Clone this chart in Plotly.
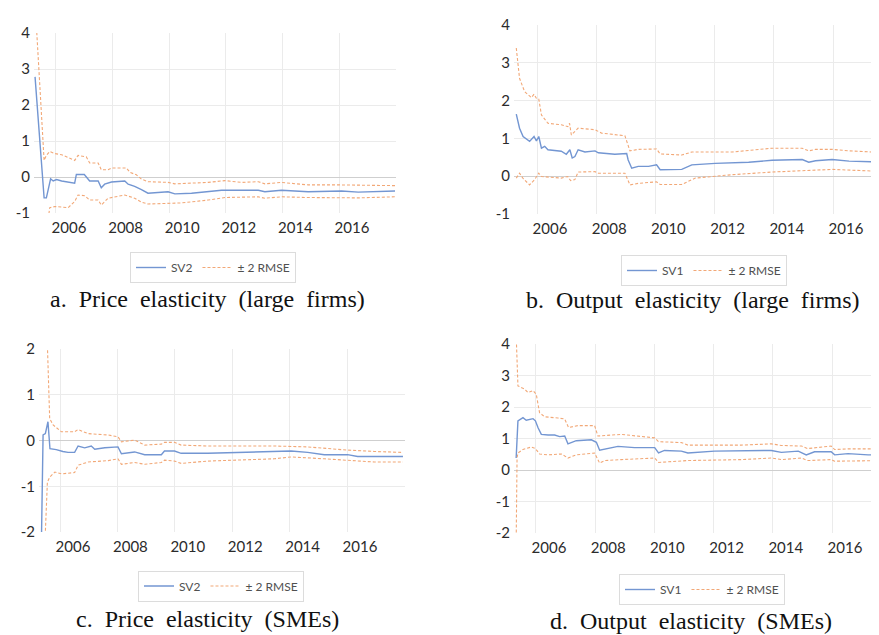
import plotly.graph_objects as go

# ---------------- data (decimal years) ----------------
# a. Price elasticity (large firms)
xa_sv = [2005.26, 2005.48, 2005.58, 2005.66, 2005.75, 2005.81, 2005.90, 2006.02, 2006.20, 2006.66,
         2006.72, 2007.00, 2007.19, 2007.31, 2007.49, 2007.60, 2007.72, 2007.96, 2008.43, 2008.55,
         2008.78, 2009.02, 2009.25, 2009.96, 2010.20, 2010.79, 2011.38, 2011.85, 2012.56, 2013.15,
         2013.38, 2013.97, 2014.91, 2015.50, 2016.09, 2016.68, 2017.27, 2017.98]
ya_sv = [2.78, 0.43, -0.58, -0.58, -0.21, -0.05, -0.11, -0.07, -0.11, -0.17,
         0.07, 0.07, -0.11, -0.11, -0.11, -0.30, -0.20, -0.14, -0.11, -0.20,
         -0.26, -0.35, -0.45, -0.41, -0.47, -0.45, -0.40, -0.37, -0.37, -0.37,
         -0.41, -0.37, -0.41, -0.41, -0.39, -0.42, -0.41, -0.39]
xa_up = [2005.30, 2005.58, 2005.66, 2005.78, 2005.96, 2006.20, 2006.66, 2006.78, 2007.07, 2007.19,
         2007.49, 2007.60, 2007.84, 2007.96, 2008.49, 2008.61, 2008.84, 2009.02, 2009.25, 2009.96,
         2010.20, 2011.38, 2011.97, 2012.56, 2013.15, 2013.38, 2013.97, 2014.91, 2016.09, 2017.27,
         2017.98]
ya_up = [4.3, 0.46, 0.60, 0.71, 0.65, 0.62, 0.46, 0.60, 0.56, 0.39,
         0.39, 0.20, 0.20, 0.25, 0.25, 0.13, 0.06, -0.06, -0.13, -0.15,
         -0.19, -0.15, -0.10, -0.15, -0.13, -0.19, -0.15, -0.22, -0.22, -0.24,
         -0.24]
xa_lo = [2005.70, 2005.78, 2005.96, 2006.43, 2006.66, 2006.78, 2007.02, 2007.19, 2007.49, 2007.60,
         2007.84, 2008.08, 2008.43, 2008.78, 2009.02, 2009.25, 2009.96, 2010.43, 2011.38, 2011.97,
         2013.15, 2013.38, 2013.97, 2014.91, 2016.68, 2017.98]
ya_lo = [-1.3, -0.85, -0.82, -0.85, -0.68, -0.50, -0.52, -0.64, -0.64, -0.78,
         -0.59, -0.55, -0.50, -0.59, -0.70, -0.75, -0.72, -0.72, -0.64, -0.57,
         -0.55, -0.59, -0.55, -0.57, -0.58, -0.55]

# b. Output elasticity (large firms)
xb_sv = [2005.30, 2005.41, 2005.53, 2005.75, 2005.90, 2005.98, 2006.06, 2006.15, 2006.26, 2006.37,
         2006.82, 2006.99, 2007.11, 2007.19, 2007.28, 2007.39, 2007.62, 2007.96, 2008.07, 2008.63,
         2009.03, 2009.08, 2009.20, 2009.42, 2009.77, 2010.04, 2010.16, 2010.89, 2011.23, 2012.02,
         2013.15, 2013.94, 2014.96, 2015.18, 2015.41, 2015.97, 2016.54, 2017.86]
yb_sv = [1.64, 1.27, 1.05, 0.92, 1.05, 0.93, 1.05, 0.74, 0.79, 0.70,
         0.66, 0.58, 0.70, 0.48, 0.52, 0.70, 0.64, 0.67, 0.62, 0.58,
         0.60, 0.43, 0.21, 0.26, 0.26, 0.30, 0.17, 0.18, 0.30, 0.34,
         0.37, 0.42, 0.44, 0.37, 0.41, 0.44, 0.40, 0.37]
xb_up = [2005.30, 2005.41, 2005.58, 2005.81, 2005.90, 2005.98, 2006.06, 2006.15, 2006.37, 2006.82,
         2007.04, 2007.10, 2007.16, 2007.39, 2007.96, 2008.18, 2008.97, 2009.14, 2009.42, 2010.04,
         2010.16, 2010.89, 2011.23, 2012.59, 2013.94, 2014.96, 2015.18, 2015.41, 2015.97, 2016.54,
         2017.86]
yb_up = [3.39, 2.59, 2.24, 2.08, 2.17, 2.06, 2.04, 1.62, 1.40, 1.36,
         1.31, 1.40, 1.09, 1.27, 1.23, 1.14, 1.07, 0.67, 0.71, 0.72,
         0.59, 0.56, 0.64, 0.64, 0.74, 0.74, 0.67, 0.71, 0.71, 0.67,
         0.62]
xb_lo = [2005.30, 2005.41, 2005.53, 2005.75, 2005.92, 2006.06, 2006.15, 2006.82, 2007.04, 2007.14,
         2007.28, 2007.39, 2007.96, 2008.07, 2008.97, 2009.14, 2009.42, 2010.04, 2010.16, 2010.89,
         2011.35, 2012.59, 2013.94, 2014.96, 2015.97, 2017.86]
yb_lo = [-0.05, 0.08, -0.06, -0.23, -0.09, 0.08, -0.01, -0.05, -0.01, -0.12,
         -0.09, 0.11, 0.12, 0.08, 0.08, -0.23, -0.19, -0.15, -0.22, -0.22,
         -0.05, 0.04, 0.11, 0.14, 0.18, 0.12]

# c. Price elasticity (SMEs)
xc_sv = [2005.35, 2005.41, 2005.49, 2005.58, 2005.65, 2005.87, 2006.10, 2006.28, 2006.51, 2006.63,
         2006.86, 2007.09, 2007.21, 2007.56, 2008.02, 2008.14, 2008.60, 2008.95, 2009.53, 2009.64,
         2009.99, 2010.22, 2011.15, 2012.31, 2013.47, 2014.05, 2014.63, 2015.21, 2016.02, 2016.37,
         2017.95]
yc_sv = [-2.3, 0.12, 0.15, 0.41, -0.18, -0.20, -0.24, -0.26, -0.26, -0.12,
         -0.16, -0.12, -0.19, -0.16, -0.14, -0.29, -0.25, -0.31, -0.31, -0.23,
         -0.23, -0.28, -0.28, -0.26, -0.25, -0.23, -0.26, -0.31, -0.31, -0.35,
         -0.35]
xc_up = [2005.55, 2005.60, 2005.64, 2005.76, 2006.05, 2006.51, 2006.63, 2006.98, 2007.68, 2008.02,
         2008.14, 2008.60, 2008.95, 2009.53, 2009.64, 2009.99, 2010.22, 2011.15, 2013.47, 2014.63,
         2015.21, 2016.02, 2016.95, 2017.95]
yc_up = [2.3, 1.22, 0.48, 0.34, 0.19, 0.19, 0.24, 0.15, 0.12, 0.08,
         -0.03, 0.01, -0.10, -0.08, -0.04, -0.04, -0.10, -0.12, -0.12, -0.14,
         -0.17, -0.21, -0.24, -0.26]
xc_lo = [2005.47, 2005.53, 2005.56, 2005.64, 2005.82, 2006.05, 2006.51, 2006.63, 2006.98, 2007.68,
         2008.02, 2008.14, 2008.60, 2008.95, 2009.53, 2009.64, 2009.99, 2010.22, 2011.15, 2013.47,
         2014.05, 2015.21, 2016.02, 2016.95, 2017.95]
yc_lo = [-2.3, -1.42, -0.91, -0.80, -0.69, -0.73, -0.70, -0.54, -0.47, -0.44,
         -0.40, -0.52, -0.48, -0.52, -0.48, -0.43, -0.45, -0.50, -0.45, -0.40,
         -0.36, -0.40, -0.43, -0.47, -0.47]

# d. Output elasticity (SMEs)
xd_sv = [2005.33, 2005.39, 2005.56, 2005.67, 2005.90, 2005.98, 2006.07, 2006.18, 2006.41, 2006.63,
         2006.80, 2006.97, 2007.08, 2007.36, 2007.87, 2008.04, 2008.15, 2008.44, 2008.77, 2009.33,
         2010.01, 2010.14, 2010.34, 2010.91, 2011.13, 2012.03, 2012.93, 2013.95, 2014.29, 2014.86,
         2015.13, 2015.41, 2015.97, 2016.09, 2016.54, 2017.22, 2017.86]
yd_sv = [0.38, 1.56, 1.66, 1.58, 1.63, 1.56, 1.34, 1.13, 1.11, 1.11,
         1.06, 1.08, 0.83, 0.93, 0.96, 0.88, 0.63, 0.68, 0.75, 0.71,
         0.71, 0.54, 0.62, 0.60, 0.54, 0.60, 0.60, 0.62, 0.56, 0.60,
         0.48, 0.58, 0.58, 0.48, 0.52, 0.48, 0.48]
xd_up = [2005.33, 2005.39, 2005.61, 2005.73, 2005.90, 2006.01, 2006.12, 2006.29, 2006.74, 2006.97,
         2007.10, 2007.41, 2007.98, 2008.09, 2008.88, 2009.33, 2010.01, 2010.14, 2010.91, 2011.13,
         2012.93, 2013.95, 2014.29, 2014.97, 2015.18, 2015.97, 2016.09, 2016.54, 2017.86]
yd_up = [4.3, 2.67, 2.57, 2.46, 2.52, 2.40, 1.82, 1.69, 1.65, 1.62,
         1.35, 1.41, 1.41, 1.08, 1.13, 1.08, 1.02, 0.90, 0.87, 0.79,
         0.79, 0.83, 0.78, 0.76, 0.68, 0.76, 0.65, 0.67, 0.67]
xd_lo = [2005.33, 2005.36, 2005.39, 2005.56, 2005.84, 2005.98, 2006.12, 2006.41, 2006.86, 2007.08,
         2007.36, 2007.98, 2008.15, 2008.32, 2008.88, 2010.01, 2010.14, 2011.13, 2012.93, 2013.95,
         2014.29, 2014.97, 2015.18, 2015.97, 2016.09, 2017.86]
yd_lo = [-2.3, 0.38, 0.54, 0.65, 0.73, 0.68, 0.51, 0.48, 0.51, 0.38,
         0.48, 0.54, 0.22, 0.30, 0.33, 0.38, 0.24, 0.30, 0.33, 0.38,
         0.33, 0.38, 0.30, 0.33, 0.28, 0.30]

year_ticks = [2006, 2008, 2010, 2012, 2014, 2016]
year_labels = [str(y) for y in year_ticks]
series_names = ["SV2", "SV1", "SV2", "SV1"]
band_name = "± 2 RMSE"
captions = ["a.\u00a0 Price\u00a0 elasticity\u00a0 (large\u00a0 firms)",
            "b.\u00a0 Output\u00a0 elasticity\u00a0 (large\u00a0 firms)",
            "c.\u00a0 Price\u00a0 elasticity\u00a0 (SMEs)",
            "d.\u00a0 Output\u00a0 elasticity\u00a0 (SMEs)"]

# ---------------- layout geometry ----------------
W, H = 879, 635
BLUE = "#7396d2"
ORANGE = "#f2a877"
TICKFONT = dict(family="Lato, Open Sans, sans-serif", size=15, color="#2b2b2b")

panels = [
    dict(sv=(xa_sv, ya_sv), up=(xa_up, ya_up), lo=(xa_lo, ya_lo),
         px=(26, 388), py=(25, 205), xr=[2005.223, 2018.014], yr=[-1, 4], yt=[-1, 0, 1, 2, 3, 4],
         leg=(205, 259.5), cap=(199, 291)),
    dict(sv=(xb_sv, yb_sv), up=(xb_up, yb_up), lo=(xb_lo, yb_lo),
         px=(506, 879), py=(17, 206), xr=[2005.223, 2017.824], yr=[-1, 4], yt=[-1, 0, 1, 2, 3, 4],
         leg=(696, 262.5), cap=(684, 292)),
    dict(sv=(xc_sv, yc_sv), up=(xc_up, yc_up), lo=(xc_lo, yc_lo),
         px=(31, 397), py=(341, 524), xr=[2005.268, 2018.021], yr=[-2, 2], yt=[-2, -1, 0, 1, 2],
         leg=(213, 578), cap=(199, 611)),
    dict(sv=(xd_sv, yd_sv), up=(xd_up, yd_up), lo=(xd_lo, yd_lo),
         px=(506, 879), py=(336, 525), xr=[2005.257, 2017.858], yr=[-2, 4], yt=[-2, -1, 0, 1, 2, 3, 4],
         leg=(694, 581.5), cap=(683, 613)),
]

fig = go.Figure()
layout = dict(width=W, height=H, margin=dict(l=0, r=0, t=0, b=0, autoexpand=False),
              paper_bgcolor="white", plot_bgcolor="white", annotations=[])

for i, p in enumerate(panels):
    n = "" if i == 0 else str(i + 1)
    xa, ya = "x" + n, "y" + n
    lg = "legend" + n
    fig.add_trace(go.Scatter(x=p["sv"][0], y=p["sv"][1], mode="lines", name=series_names[i],
                             line=dict(color=BLUE, width=1.4), xaxis=xa, yaxis=ya, legend=lg))
    fig.add_trace(go.Scatter(x=p["up"][0], y=p["up"][1], mode="lines", name=band_name,
                             line=dict(color=ORANGE, width=1.1, dash="3px,2px"),
                             xaxis=xa, yaxis=ya, legend=lg))
    fig.add_trace(go.Scatter(x=p["lo"][0], y=p["lo"][1], mode="lines", name=band_name,
                             line=dict(color=ORANGE, width=1.1, dash="3px,2px"),
                             xaxis=xa, yaxis=ya, legend=lg, showlegend=False))
    layout["xaxis" + n] = dict(domain=[p["px"][0] / W, p["px"][1] / W], range=p["xr"],
                               anchor=ya, tickvals=year_ticks, ticktext=year_labels,
                               showgrid=True, gridcolor="#ebebeb", gridwidth=1,
                               zeroline=False, showline=False, ticks="",
                               tickfont=TICKFONT, ticklabelstandoff=4, ticklabelshift=13,
                               automargin=False, fixedrange=True)
    layout["yaxis" + n] = dict(domain=[1 - p["py"][1] / H, 1 - p["py"][0] / H], range=p["yr"],
                               anchor=xa, tickvals=p["yt"], ticktext=[str(v) for v in p["yt"]],
                               showgrid=True, gridcolor="#ebebeb", gridwidth=1,
                               zeroline=True, zerolinecolor="#cfcfcf", zerolinewidth=1,
                               showline=False, ticks="", tickfont=TICKFONT,
                               ticklabelstandoff=3, automargin=False, fixedrange=True)
    layout[lg] = dict(orientation="h", x=p["leg"][0] / W, y=1 - p["leg"][1] / H,
                      xanchor="center", yanchor="middle", bgcolor="white",
                      bordercolor="#dcdcdc", borderwidth=1,
                      font=dict(family="Lato, Open Sans, sans-serif", size=12, color="#505050"),
                      itemwidth=30, tracegroupgap=0)
    layout["annotations"].append(dict(text=captions[i], xref="paper", yref="paper",
                                      x=p["cap"][0] / W, y=1 - p["cap"][1] / H,
                                      xanchor="center", yanchor="middle", showarrow=False,
                                      font=dict(family="Liberation Serif, Times New Roman, serif",
                                                size=24, color="#111111")))

fig.update_layout(**layout)
fig.write_html("out.html")
